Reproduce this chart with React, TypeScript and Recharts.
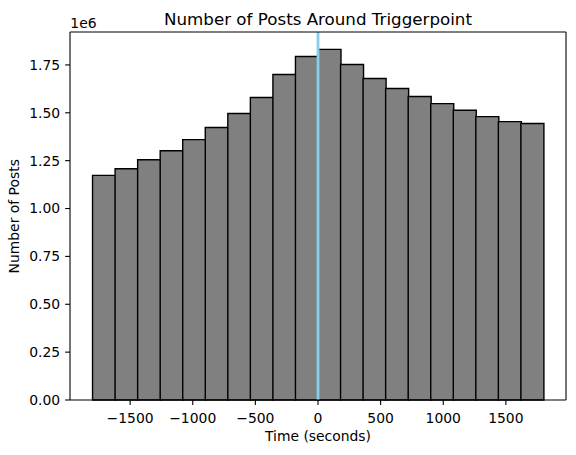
import { ComposedChart, Bar, XAxis, YAxis, ReferenceLine } from "recharts";

const binStarts = [
  -1800, -1620, -1440, -1260, -1080, -900, -720, -540, -360, -180,
  0, 180, 360, 540, 720, 900, 1080, 1260, 1440, 1620,
];
const postCounts = [
  1173000, 1208000, 1255000, 1302000, 1360000, 1423000, 1496000, 1580000, 1700000, 1794000,
  1831000, 1752000, 1679000, 1627000, 1585000, 1548000, 1513000, 1480000, 1454000, 1444000,
];
const binWidth = 180;
const xDomain = [-1980, 1980];
const yDomain = [0, 1922000];
const xTicks = [-1500, -1000, -500, 0, 500, 1000, 1500];
const yTicks = [0, 250000, 500000, 750000, 1000000, 1250000, 1500000, 1750000];

const data = binStarts.map((s, i) => ({ center: s + binWidth / 2, count: postCounts[i] }));

const font = "'DejaVu Sans', sans-serif";
const tickStyle = { fontSize: 13.9, fill: "#000", fontFamily: font };
const spine = { stroke: "#000", strokeWidth: 1.1 };

const fmtX = (v: number) => (v < 0 ? "\u2212" + Math.abs(v) : String(v));
const fmtY = (v: number) => (v / 1e6).toFixed(2);

export default function App() {
  return (
    <div style={{ position: "absolute", left: 0, top: 0, width: 576, height: 455, background: "#fff" }}>
      <ComposedChart
        width={576}
        height={455}
        data={data}
        margin={{ top: 32, right: 10, bottom: 25, left: 10 }}
        barCategoryGap={0}
        barGap={0}
      >
        <XAxis
          dataKey="center"
          type="number"
          domain={xDomain}
          ticks={xTicks}
          tickFormatter={fmtX}
          height={30}
          tickSize={4.9}
          tickMargin={8}
          tick={tickStyle}
          axisLine={spine}
          tickLine={spine}
          interval={0}
        />
        <YAxis
          type="number"
          domain={yDomain}
          ticks={yTicks}
          tickFormatter={fmtY}
          width={60}
          tickSize={4.9}
          tickMargin={5}
          tick={tickStyle}
          axisLine={spine}
          tickLine={spine}
          interval={0}
        />
        <Bar dataKey="count" fill="#808080" stroke="#000" strokeWidth={1.4} isAnimationActive={false} />
        <ReferenceLine x={0} stroke="#87ceeb" strokeWidth={2.8} />
        {/* top and right spines */}
        <ReferenceLine y={yDomain[1]} {...spine} ifOverflow="visible" />
        <ReferenceLine x={xDomain[1]} {...spine} ifOverflow="visible" />
      </ComposedChart>
      <svg
        width={576}
        height={455}
        style={{ position: "absolute", left: 0, top: 0, pointerEvents: "none" }}
        fontFamily={font}
      >
        <text x={318} y={25} textAnchor="middle" fontSize={16.7} fill="#000">
          Number of Posts Around Triggerpoint
        </text>
        <text x={70.3} y={28.3} fontSize={13.9} fill="#000">
          1e6
        </text>
        <text x={318} y={440.5} textAnchor="middle" fontSize={13.9} fill="#000">
          Time (seconds)
        </text>
        <text x={19.5} y={216.3} textAnchor="middle" fontSize={13.9} fill="#000" transform="rotate(-90 19.5 216.3)">
          Number of Posts
        </text>
      </svg>
    </div>
  );
}
